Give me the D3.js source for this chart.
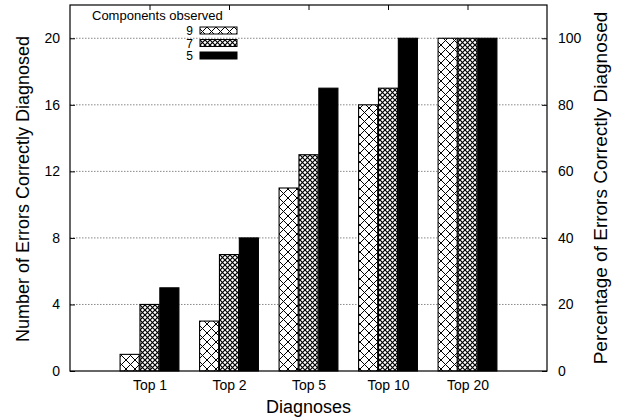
<!DOCTYPE html>
<html>
<head>
<meta charset="utf-8">
<script src="https://cdn.jsdelivr.net/npm/d3@7"></script>
<style>
  body { margin: 0; background: #fff; }
  text { font-family: "Liberation Sans", Arial, Helvetica, sans-serif; fill: #000; }
</style>
</head>
<body>
<div id="chart"></div>
<script>
const categories = ['Top 1', 'Top 2', 'Top 5', 'Top 10', 'Top 20'];
const seriesNames = ['9', '7', '5'];
const comp9 = [1, 3, 11, 16, 20];
const comp7 = [4, 7, 13, 17, 20];
const comp5 = [5, 8, 17, 20, 20];
const leftTicks = [0, 4, 8, 12, 16, 20];
const rightTicks = [0, 20, 40, 60, 80, 100];

const width = 626, height = 419;
const margin = { left: 70, right: 79, top: 5, bottom: 48 };

const svg = d3.select('#chart').append('svg')
    .attr('width', width)
    .attr('height', height);

const defs = svg.append('defs');
// coarse crosshatch (9 components)
const p1 = defs.append('pattern')
    .attr('id', 'hatch9')
    .attr('patternUnits', 'userSpaceOnUse')
    .attr('width', 9).attr('height', 9);
p1.append('rect').attr('width', 9).attr('height', 9).attr('fill', '#fff');
p1.append('path').attr('d', 'M0,0 L9,9 M9,0 L0,9 M-1,8 L1,10 M8,-1 L10,1 M-1,1 L1,-1 M8,10 L10,8')
    .attr('stroke', '#000').attr('stroke-width', 1);
// dense crosshatch (7 components)
const p2 = defs.append('pattern')
    .attr('id', 'hatch7')
    .attr('patternUnits', 'userSpaceOnUse')
    .attr('width', 5).attr('height', 5);
p2.append('rect').attr('width', 5).attr('height', 5).attr('fill', '#fff');
p2.append('path').attr('d', 'M0,0 L5,5 M5,0 L0,5')
    .attr('stroke', '#000').attr('stroke-width', 1.2);

const fills = ['url(#hatch9)', 'url(#hatch7)', '#000'];
const series = [comp9, comp7, comp5];

const x = d3.scaleLinear().domain([0, categories.length + 1])
    .range([margin.left, width - margin.right]);
const y = d3.scaleLinear().domain([0, 22])
    .range([height - margin.bottom, margin.top]);
const yR = d3.scaleLinear().domain([0, 110])
    .range([height - margin.bottom, margin.top]);

const barW = 0.24;
const barStep = 0.25;

// grid lines
svg.append('g')
    .selectAll('line')
    .data(leftTicks.filter(d => d > 0))
    .enter()
    .append('line')
    .attr('x1', x(0)).attr('x2', x(categories.length + 1))
    .attr('y1', d => y(d)).attr('y2', d => y(d))
    .attr('stroke', '#888')
    .attr('stroke-width', 1)
    .attr('stroke-dasharray', '1.5,1.5');

// bars
series.forEach((vals, si) => {
    svg.append('g')
        .selectAll('rect')
        .data(vals)
        .enter()
        .append('rect')
        .attr('x', (d, i) => x(i + 1 + (si - 1) * barStep - barW / 2))
        .attr('width', x(barW) - x(0))
        .attr('y', d => y(d))
        .attr('height', d => y(0) - y(d))
        .attr('fill', fills[si])
        .attr('stroke', '#000')
        .attr('stroke-width', 1.1);
});

// frame
svg.append('rect')
    .attr('x', x(0)).attr('y', y(22))
    .attr('width', x(categories.length + 1) - x(0))
    .attr('height', y(0) - y(22))
    .attr('fill', 'none')
    .attr('stroke', '#000')
    .attr('stroke-width', 1.2);

// left axis
const leftAxis = d3.axisLeft(y).tickValues(leftTicks).tickSize(-5).tickPadding(10);
const gl = svg.append('g').attr('transform', `translate(${x(0)},0)`).call(leftAxis);
// right axis
const rightAxis = d3.axisRight(yR).tickValues(rightTicks).tickSize(-5).tickPadding(11);
const gr = svg.append('g').attr('transform', `translate(${x(categories.length + 1)},0)`).call(rightAxis);
// bottom axis
const bottomAxis = d3.axisBottom(x).tickValues(d3.range(1, categories.length + 1))
    .tickFormat(d => categories[d - 1]).tickSize(-5).tickPadding(9);
const gb = svg.append('g').attr('transform', `translate(0,${y(0)})`).call(bottomAxis);
// top mirror ticks
const topAxis = d3.axisTop(x).tickValues(d3.range(1, categories.length + 1))
    .tickFormat('').tickSize(-5);
const gt = svg.append('g').attr('transform', `translate(0,${y(22)})`).call(topAxis);

[gl, gr, gb, gt].forEach(g => {
    g.select('.domain').remove();
    g.selectAll('.tick line').attr('stroke', '#000');
    g.selectAll('.tick text')
        .style('font-family', '"Liberation Sans", Arial, sans-serif')
        .style('font-size', '14px')
        .attr('fill', '#000');
});

// axis titles
svg.append('text')
    .attr('transform', `translate(29,${(y(0) + y(22)) / 2 + 1}) rotate(-90)`)
    .attr('text-anchor', 'middle')
    .style('font-size', '18px')
    .text('Number of Errors Correctly Diagnosed');

svg.append('text')
    .attr('transform', `translate(607,${(y(0) + y(22)) / 2}) rotate(-90)`)
    .attr('text-anchor', 'middle')
    .style('font-size', '19px')
    .text('Percentage of Errors Correctly Diagnosed');

svg.append('text')
    .attr('x', (x(0) + x(categories.length + 1)) / 2)
    .attr('y', 413)
    .attr('text-anchor', 'middle')
    .style('font-size', '18px')
    .text('Diagnoses');

// legend
const legend = svg.append('g');
legend.append('text')
    .attr('x', 92).attr('y', 20)
    .style('font-size', '13px')
    .text('Components observed');
seriesNames.forEach((name, i) => {
    const ly = 30.5 + i * 12.5;
    legend.append('text')
        .attr('x', 193).attr('y', ly + 4.5)
        .attr('text-anchor', 'end')
        .style('font-size', '12px')
        .text(name);
    legend.append('rect')
        .attr('x', 200).attr('y', ly - 3.5)
        .attr('width', 37).attr('height', 7)
        .attr('fill', fills[i])
        .attr('stroke', '#000')
        .attr('stroke-width', 1);
});
</script>
</body>
</html>
